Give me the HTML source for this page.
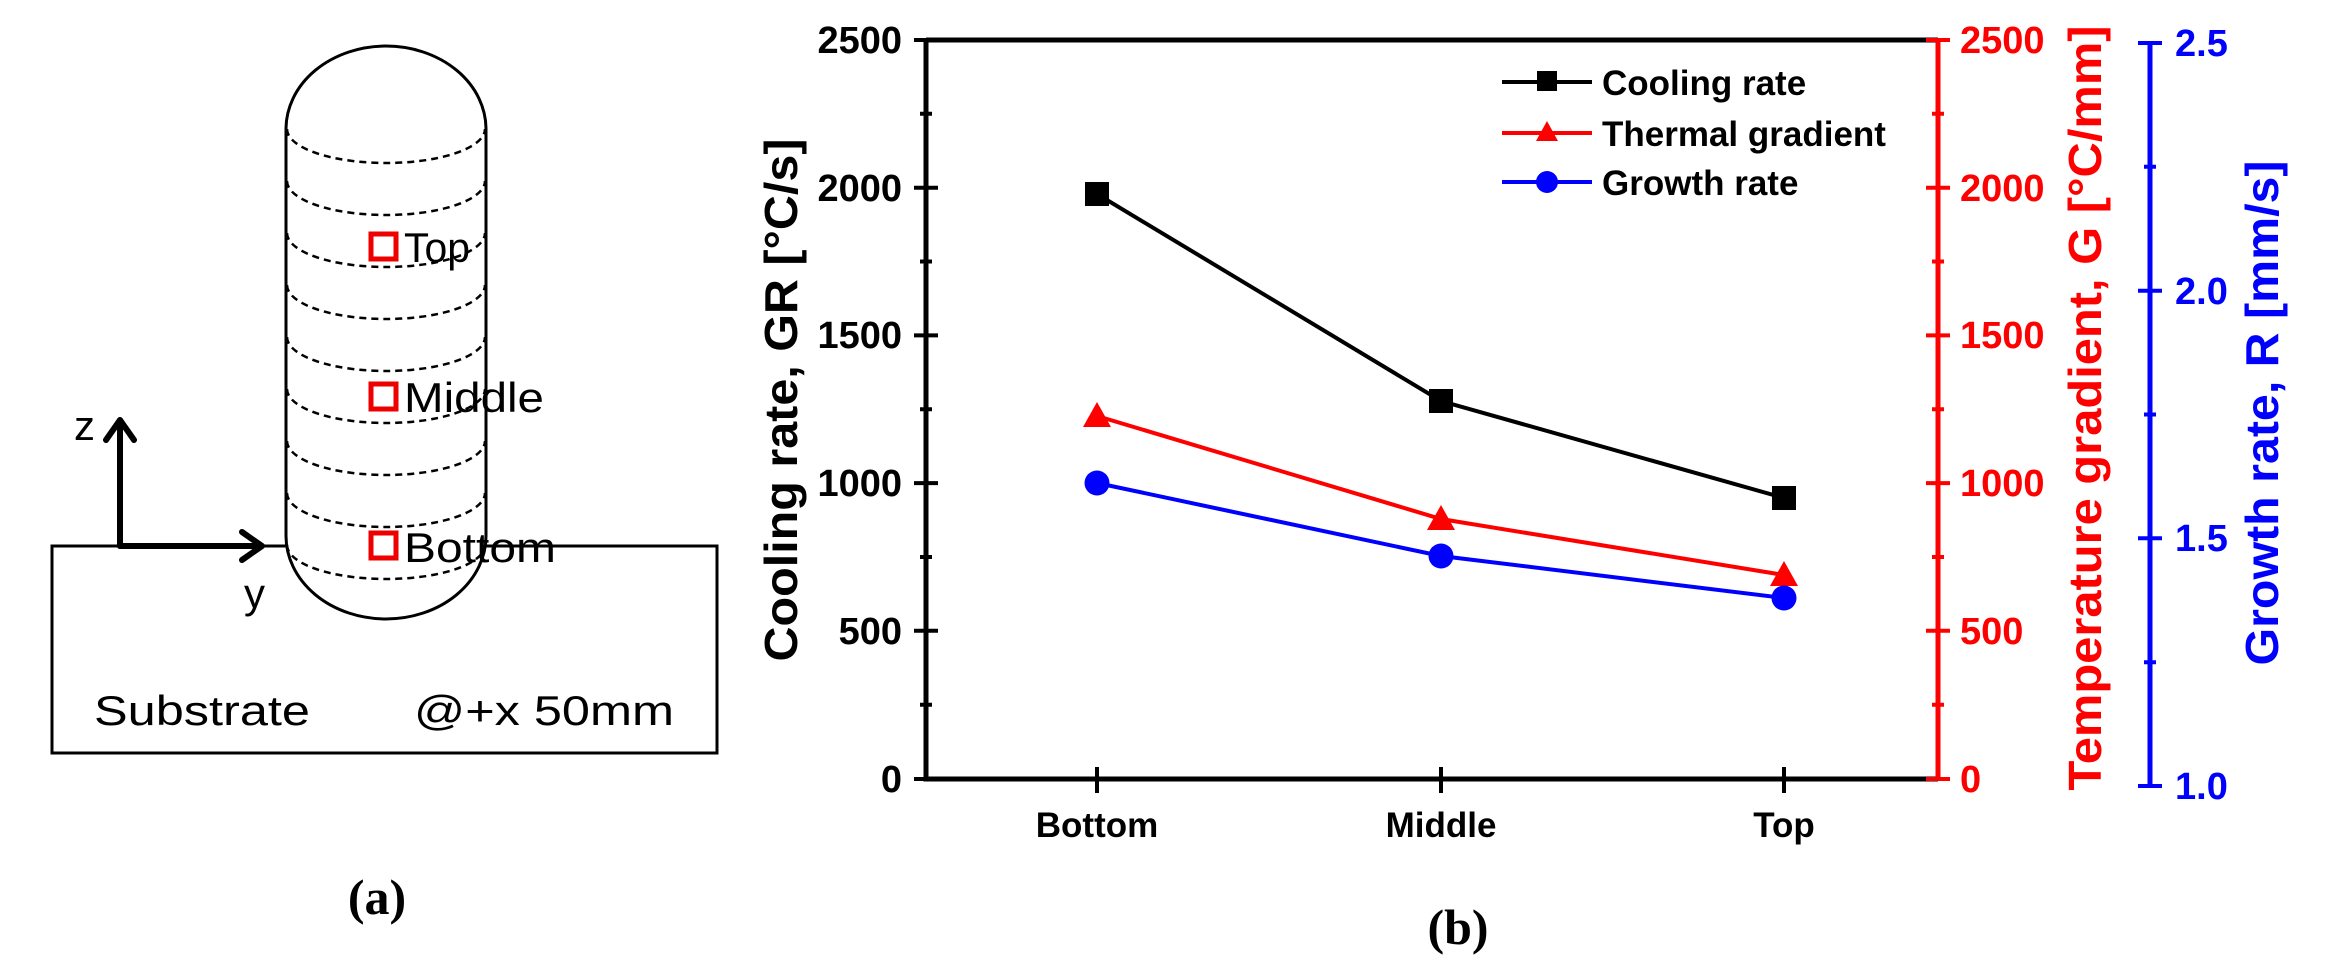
<!DOCTYPE html>
<html><head><meta charset="utf-8"><style>
html,body{margin:0;padding:0;background:#fff;}
svg{display:block;}
.s{font-family:"Liberation Sans",Arial,sans-serif;}
.f{font-family:"Liberation Serif",serif;}
</style></head><body>
<svg width="2340" height="966" viewBox="0 0 2340 966" xmlns="http://www.w3.org/2000/svg">
<rect width="2340" height="966" fill="#fff"/>
<!-- Panel (a) -->
<rect x="52" y="546" width="665" height="207" fill="none" stroke="#000" stroke-width="3"/>
<path d="M286 129 A100 83 0 0 1 486 129 L486 536 A100 83 0 0 1 286 536 Z" fill="#fff" stroke="#000" stroke-width="3"/>
<g fill="none" stroke="#000" stroke-width="2.5" stroke-dasharray="7,5">
<path d="M287 129 A99 34 0 0 0 485 129"/>
<path d="M287 181 A99 34 0 0 0 485 181"/>
<path d="M287 233 A99 34 0 0 0 485 233"/>
<path d="M287 285 A99 34 0 0 0 485 285"/>
<path d="M287 337 A99 34 0 0 0 485 337"/>
<path d="M287 389 A99 34 0 0 0 485 389"/>
<path d="M287 441 A99 34 0 0 0 485 441"/>
<path d="M287 493 A99 34 0 0 0 485 493"/>
<path d="M287 545 A99 34 0 0 0 485 545"/>
</g>
<g fill="none" stroke="#e00" stroke-width="5">
<rect x="371" y="234" width="25" height="25"/>
<rect x="371" y="384" width="25" height="25"/>
<rect x="371" y="533" width="25" height="25"/>
</g>
<g class="s" font-size="42" fill="#000">
<text x="404" y="262" textLength="66" lengthAdjust="spacingAndGlyphs">Top</text>
<text x="404" y="412" textLength="140" lengthAdjust="spacingAndGlyphs">Middle</text>
<text x="404" y="562" textLength="152" lengthAdjust="spacingAndGlyphs">Bottom</text>
<text x="74" y="440">z</text>
<text x="244" y="608">y</text>
<text x="94" y="725" textLength="216" lengthAdjust="spacingAndGlyphs">Substrate</text>
<text x="414" y="725" textLength="260" lengthAdjust="spacingAndGlyphs">@+x 50mm</text>
</g>
<g stroke="#000" stroke-width="6" fill="none" stroke-linecap="round" stroke-linejoin="round">
<path d="M120 546 L120 424"/><path d="M106 440 L120 420 L134 440"/>
<path d="M120 546 L258 546"/><path d="M242 532 L262 546 L242 560"/>
</g>
<text class="f" x="377" y="914" font-size="50" font-weight="bold" text-anchor="middle">(a)</text>

<!-- Panel (b) -->
<g stroke="#000" stroke-width="5" fill="none">
<path d="M926 40 L926 779 L1938 779"/>
<path d="M926 40 L1938 40"/>
</g>
<g stroke="#000" stroke-width="4">
<path d="M914 40H938M914 187.7H938M914 335.4H938M914 483.1H938M914 630.8H938M914 779H938"/>
<path d="M920 113.8H932M920 261.5H932M920 409.3H932M920 557H932M920 704.7H932"/>
<path d="M1097 767V793M1441 767V793M1784 767V793"/>
</g>
<g class="s" font-size="38" font-weight="bold" text-anchor="end" fill="#000">
<text x="902" y="53">2500</text>
<text x="902" y="201">2000</text>
<text x="902" y="348">1500</text>
<text x="902" y="496">1000</text>
<text x="902" y="644">500</text>
<text x="902" y="792">0</text>
</g>
<text class="s" transform="translate(797,400) rotate(-90)" font-size="46" font-weight="bold" text-anchor="middle" textLength="523" lengthAdjust="spacingAndGlyphs">Cooling rate, GR [°C/s]</text>
<g class="s" font-size="35" font-weight="bold" text-anchor="middle" fill="#000">
<text x="1097" y="837">Bottom</text>
<text x="1441" y="837">Middle</text>
<text x="1784" y="837">Top</text>
</g>
<!-- red axis -->
<g stroke="#f00" stroke-width="5"><path d="M1938 40V779"/></g>
<g stroke="#f00" stroke-width="4">
<path d="M1926 40H1950M1926 187.7H1950M1926 335.4H1950M1926 483.1H1950M1926 630.8H1950M1926 779H1950"/>
<path d="M1932 113.8H1944M1932 261.5H1944M1932 409.3H1944M1932 557H1944M1932 704.7H1944"/>
</g>
<g class="s" font-size="38" font-weight="bold" fill="#f00">
<text x="1960" y="53">2500</text>
<text x="1960" y="201">2000</text>
<text x="1960" y="348">1500</text>
<text x="1960" y="496">1000</text>
<text x="1960" y="644">500</text>
<text x="1960" y="792">0</text>
</g>
<text class="s" transform="translate(2101,408) rotate(-90)" font-size="46" font-weight="bold" fill="#f00" text-anchor="middle" textLength="765" lengthAdjust="spacingAndGlyphs">Temperature gradient, G [°C/mm]</text>
<!-- blue axis -->
<g stroke="#00f" stroke-width="5"><path d="M2150 43V786"/></g>
<g stroke="#00f" stroke-width="4">
<path d="M2138 43H2162M2138 290.7H2162M2138 538.3H2162M2138 786H2162"/>
<path d="M2144 166.8H2156M2144 414.5H2156M2144 662.2H2156"/>
</g>
<g class="s" font-size="38" font-weight="bold" fill="#00f">
<text x="2175" y="56">2.5</text>
<text x="2175" y="304">2.0</text>
<text x="2175" y="551">1.5</text>
<text x="2175" y="799">1.0</text>
</g>
<text class="s" transform="translate(2278,413) rotate(-90)" font-size="46" font-weight="bold" fill="#00f" text-anchor="middle" textLength="505" lengthAdjust="spacingAndGlyphs">Growth rate, R [mm/s]</text>
<!-- series -->
<polyline points="1097,194 1441,401 1784,498" fill="none" stroke="#000" stroke-width="4"/>
<polyline points="1097,416 1441,519 1784,575" fill="none" stroke="#f00" stroke-width="4"/>
<polyline points="1097,483 1441,556 1784,598" fill="none" stroke="#00f" stroke-width="4"/>
<g fill="#000"><rect x="1085" y="182" width="24" height="24"/><rect x="1429" y="389" width="24" height="24"/><rect x="1772" y="486" width="24" height="24"/></g>
<g fill="#f00"><path d="M1097 402 L1111 427 L1083 427Z"/><path d="M1441 505 L1455 530 L1427 530Z"/><path d="M1784 561 L1798 586 L1770 586Z"/></g>
<g fill="#00f"><circle cx="1097" cy="483" r="12.5"/><circle cx="1441" cy="556" r="12.5"/><circle cx="1784" cy="598" r="12.5"/></g>
<!-- legend -->
<g stroke-width="4">
<path d="M1502 82H1592" stroke="#000"/><path d="M1502 133H1592" stroke="#f00"/><path d="M1502 182H1592" stroke="#00f"/>
</g>
<rect x="1537" y="71" width="20" height="20" fill="#000"/>
<path d="M1547 121 L1558 141 L1536 141Z" fill="#f00"/>
<circle cx="1547" cy="182" r="11" fill="#00f"/>
<g class="s" font-size="35" font-weight="bold" fill="#000">
<text x="1602" y="95">Cooling rate</text>
<text x="1602" y="146">Thermal gradient</text>
<text x="1602" y="195">Growth rate</text>
</g>
<text class="f" x="1458" y="944" font-size="50" font-weight="bold" text-anchor="middle">(b)</text>
</svg>
</body></html>
